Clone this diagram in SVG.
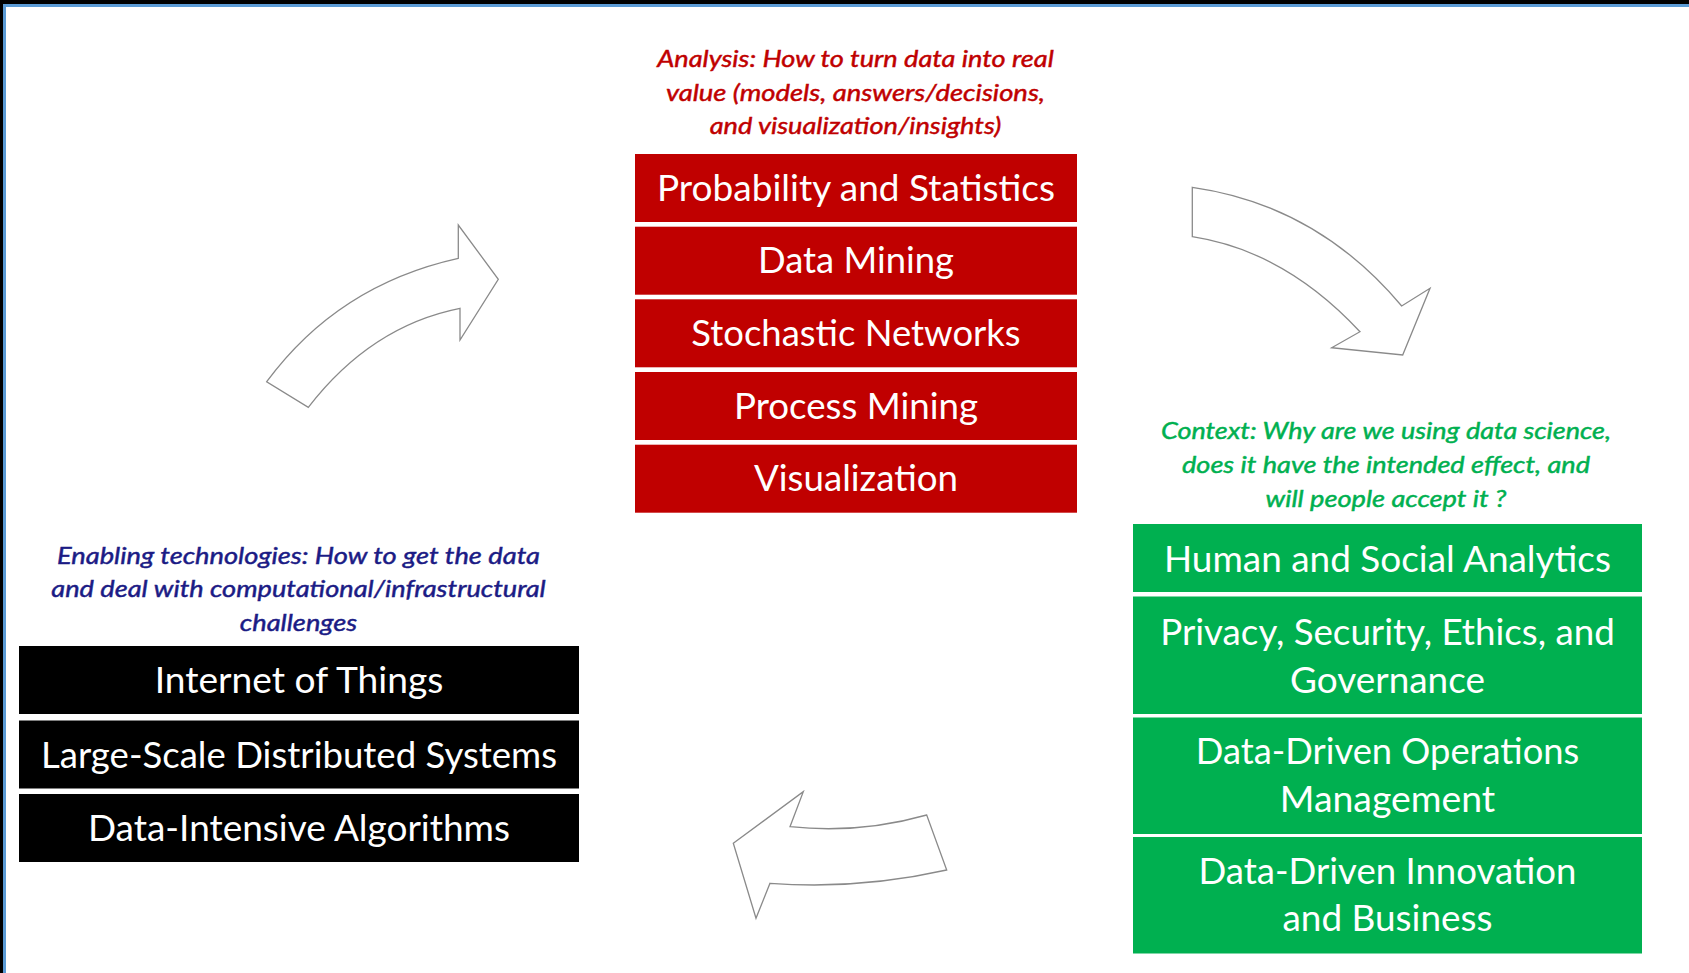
<svg xmlns="http://www.w3.org/2000/svg" width="1689" height="973" viewBox="0 0 1689 973">
<style>
.box-t{font-family:Lato,"Open Sans","Liberation Sans",sans-serif;font-size:36px;fill:#ffffff;text-anchor:middle}
.cap{font-family:Lato,"Open Sans","Liberation Sans",sans-serif;font-size:23px;font-style:italic;text-anchor:middle;stroke-width:0.45}
.red{fill:#C00000}
.grn{fill:#00B050}
.blk{fill:#000000}
.arrow{fill:#ffffff;stroke:#8a8a8a;stroke-width:1.3;stroke-linejoin:miter}
</style>
<rect x="0" y="0" width="1689" height="973" fill="#ffffff"/>
<rect x="0" y="0" width="1689" height="4" fill="#000000"/>
<rect x="0" y="4" width="1689" height="3" fill="#5B9BD5"/>
<rect x="0" y="0" width="3" height="973" fill="#000000"/>
<rect x="3" y="4" width="3" height="969" fill="#5B9BD5"/>

<g id="analysis">
<text class="cap" fill="#C00000" stroke="#C00000" x="855.5" y="66.7" textLength="396.5" lengthAdjust="spacingAndGlyphs">Analysis: How to turn data into real</text>
<text class="cap" fill="#C00000" stroke="#C00000" x="855.5" y="100.5" textLength="379" lengthAdjust="spacingAndGlyphs">value (models, answers/decisions,</text>
<text class="cap" fill="#C00000" stroke="#C00000" x="855.5" y="134.3" textLength="291.7" lengthAdjust="spacingAndGlyphs">and visualization/insights)</text>
</g>
<g id="prob-stats"><rect class="red" x="635" y="154" width="442" height="68"/><text class="box-t" x="856" y="200.5" textLength="398" lengthAdjust="spacingAndGlyphs">Probability and Statistics</text></g>
<g id="data-mining"><rect class="red" x="635" y="226.7" width="442" height="68"/><text class="box-t" x="856" y="273.2" textLength="196" lengthAdjust="spacingAndGlyphs">Data Mining</text></g>
<g id="stochastic"><rect class="red" x="635" y="299.3" width="442" height="68"/><text class="box-t" x="856" y="345.8" textLength="329.3" lengthAdjust="spacingAndGlyphs">Stochastic Networks</text></g>
<g id="process-mining"><rect class="red" x="635" y="372" width="442" height="68"/><text class="box-t" x="856" y="418.5" textLength="244" lengthAdjust="spacingAndGlyphs">Process Mining</text></g>
<g id="visualization"><rect class="red" x="635" y="444.7" width="442" height="68"/><text class="box-t" x="856" y="491.2" textLength="204" lengthAdjust="spacingAndGlyphs">Visualization</text></g>

<g id="enabling">
<text class="cap" fill="#1B1B85" stroke="#1B1B85" x="298.5" y="563.5" textLength="483" lengthAdjust="spacingAndGlyphs">Enabling technologies: How to get the data</text>
<text class="cap" fill="#1B1B85" stroke="#1B1B85" x="298.5" y="597" textLength="494.5" lengthAdjust="spacingAndGlyphs">and deal with computational/infrastructural</text>
<text class="cap" fill="#1B1B85" stroke="#1B1B85" x="298.5" y="630.5" textLength="117.4" lengthAdjust="spacingAndGlyphs">challenges</text>
</g>
<g id="iot"><rect class="blk" x="19" y="646" width="560" height="68"/><text class="box-t" x="299" y="693" textLength="288.7" lengthAdjust="spacingAndGlyphs">Internet of Things</text></g>
<g id="distributed"><rect class="blk" x="19" y="720.5" width="560" height="68"/><text class="box-t" x="299" y="767.5" textLength="516" lengthAdjust="spacingAndGlyphs">Large-Scale Distributed Systems</text></g>
<g id="algorithms"><rect class="blk" x="19" y="794" width="560" height="68"/><text class="box-t" x="299" y="841" textLength="422" lengthAdjust="spacingAndGlyphs">Data-Intensive Algorithms</text></g>

<g id="context">
<text class="cap" fill="#00B050" stroke="#00B050" x="1386" y="439.3" textLength="450" lengthAdjust="spacingAndGlyphs">Context: Why are we using data science,</text>
<text class="cap" fill="#00B050" stroke="#00B050" x="1386" y="473" textLength="408" lengthAdjust="spacingAndGlyphs">does it have the intended effect, and</text>
<text class="cap" fill="#00B050" stroke="#00B050" x="1386" y="506.7" textLength="241" lengthAdjust="spacingAndGlyphs">will people accept it ?</text>
</g>
<g id="human-social"><rect class="grn" x="1133" y="524" width="509" height="68"/><text class="box-t" x="1387.5" y="572" textLength="447" lengthAdjust="spacingAndGlyphs">Human and Social Analytics</text></g>
<g id="privacy"><rect class="grn" x="1133" y="596.5" width="509" height="117.5"/><text class="box-t" x="1387.5" y="644.6" textLength="454.6" lengthAdjust="spacingAndGlyphs">Privacy, Security, Ethics, and</text><text class="box-t" x="1387.5" y="692.6" textLength="195" lengthAdjust="spacingAndGlyphs">Governance</text></g>
<g id="operations"><rect class="grn" x="1133" y="717.5" width="509" height="116.5"/><text class="box-t" x="1387.5" y="763.6" textLength="383.5" lengthAdjust="spacingAndGlyphs">Data-Driven Operations</text><text class="box-t" x="1387.5" y="811.8" textLength="215.4" lengthAdjust="spacingAndGlyphs">Management</text></g>
<g id="innovation"><rect class="grn" x="1133" y="837" width="509" height="116.5"/><text class="box-t" x="1387.5" y="884" textLength="378" lengthAdjust="spacingAndGlyphs">Data-Driven Innovation</text><text class="box-t" x="1387.5" y="930.7" textLength="210" lengthAdjust="spacingAndGlyphs">and Business</text></g>

<g id="connectors">
<path class="arrow" d="M266.7,381.7 Q338,285 458.3,258.3 L458.3,225 L498.3,279.3 L460,340 L460,308.3 Q371,326 308.3,407.3 Z"/>
<path class="arrow" d="M1192.3,187.3 Q1317,205 1401.7,306 L1430,288.3 L1402.7,355 L1331.7,347.7 L1360,331.7 Q1285,251 1192.3,236.7 Z"/>
<path class="arrow" d="M733.3,843.3 L803.3,791.7 L790,826.7 Q860,834 926.7,815 L946.7,870 Q858,890 770,883.3 L756,918.3 Z"/>
</g>
</svg>
